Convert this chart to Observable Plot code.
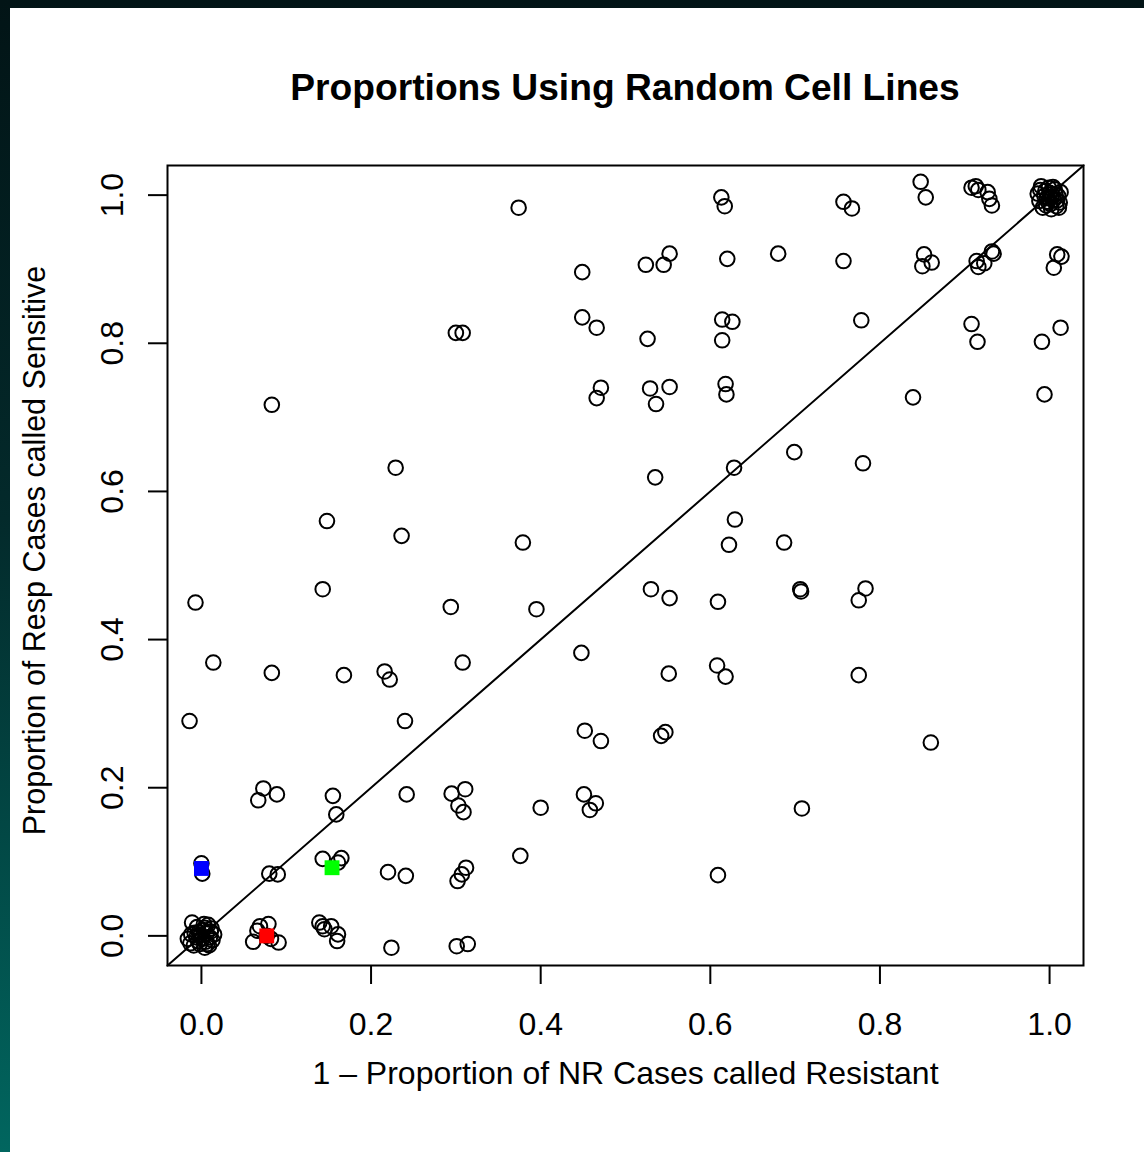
<!DOCTYPE html>
<html><head><meta charset="utf-8">
<script src="https://cdn.jsdelivr.net/npm/d3@7"></script>
<script src="https://cdn.jsdelivr.net/npm/@observablehq/plot@0.6"></script>
<style>
html,body{margin:0;padding:0;width:1144px;height:1152px;overflow:hidden;background:linear-gradient(to bottom,#021416 0%,#032a2b 45%,#01665f 100%);}
#panel{position:absolute;left:10px;top:8px;width:1134px;height:1144px;background:#fff;}
#title{position:absolute;left:157px;width:916px;top:61px;text-align:center;font-family:"Liberation Sans",Arial,sans-serif;font-weight:bold;font-size:37.2px;line-height:37px;color:#000;white-space:nowrap;}
#chart{position:absolute;left:0;top:122px;}
#chart svg{overflow:visible;}
</style></head>
<body>
<div id="panel"><div id="title">Proportions Using Random Cell Lines</div><div id="chart"></div></div>
<script>
const titleText = "Proportions Using Random Cell Lines";
const xLabel = "1 \u2013 Proportion of NR Cases called Resistant";
const yLabel = "Proportion of Resp Cases called Sensitive";
const axisLimits = [-0.04, 1.04];
const xTicks = [0, 0.2, 0.4, 0.6, 0.8, 1.0];
const yTicks = [0, 0.2, 0.4, 0.6, 0.8, 1.0];

// open circles: 1 - proportion NR called resistant (x), proportion Resp called sensitive (y)
const nrX = [
  0.374,0.613,0.617,0.757,0.767,0.848,0.854,0.908,0.913,0.916,0.927,0.929,0.932,
  0.449,0.524,0.545,0.552,0.620,0.680,0.757,0.852,0.850,0.861,0.932,0.934,0.914,0.916,0.923,1.009,1.014,1.005,
  0.300,0.308,0.449,0.466,0.526,0.614,0.626,0.614,0.778,0.908,0.915,1.013,0.991,
  0.471,0.466,0.529,0.552,0.536,0.618,0.619,0.839,0.994,0.083,
  0.229,0.535,0.628,0.699,0.780,0.148,0.236,0.379,0.629,0.622,0.687,
  -0.007,0.143,0.294,0.395,0.530,0.552,0.609,0.706,0.707,0.783,0.775,
  0.014,0.083,0.168,0.216,0.222,0.308,0.448,0.551,0.608,0.618,0.775,
  -0.014,0.240,0.452,0.471,0.542,0.547,0.860,
  0.073,0.067,0.089,0.155,0.159,0.242,0.295,0.311,0.303,0.309,0.451,0.465,0.458,0.400,0.708,
  0.000,0.001,0.080,0.090,0.143,0.165,0.161,0.220,0.241,0.312,0.307,0.302,0.376,0.609,
  0.224,0.301,0.314,0.139,0.143,0.145,0.153,0.161,0.160,
  0.069,0.079,0.061,0.091,0.082,0.066,0.077,
  -0.011,-0.013,-0.016,-0.009,-0.005,0.003,0.008,0.012,0.015,0.013,0.009,0.004,-0.002,-0.006,
  -0.003,0.002,0.006,0.001,0.005,-0.008,0.010,-0.001,0.004,-0.004,0.011,0.007,-0.012,
  0.986,0.988,0.990,0.992,0.995,0.997,0.999,1.001,1.003,1.005,1.006,1.008,1.010,
  1.012,1.013,0.994,1.000,1.002,1.007,0.998,1.004,1.011,0.989,1.009,0.996,1.002
];
const respY = [
  0.983,0.997,0.985,0.991,0.982,1.018,0.997,1.010,1.012,1.007,1.004,0.995,0.986,
  0.896,0.906,0.906,0.921,0.914,0.921,0.911,0.920,0.904,0.909,0.924,0.921,0.911,0.903,0.908,0.920,0.917,0.902,
  0.814,0.814,0.835,0.821,0.806,0.832,0.829,0.804,0.831,0.826,0.802,0.821,0.802,
  0.740,0.726,0.739,0.741,0.718,0.745,0.731,0.727,0.731,0.717,
  0.632,0.619,0.632,0.653,0.638,0.560,0.540,0.531,0.562,0.528,0.531,
  0.450,0.468,0.444,0.441,0.468,0.456,0.451,0.468,0.465,0.469,0.453,
  0.369,0.355,0.352,0.357,0.346,0.369,0.382,0.354,0.365,0.350,0.352,
  0.290,0.290,0.277,0.263,0.270,0.275,0.261,
  0.199,0.183,0.191,0.189,0.164,0.191,0.192,0.198,0.176,0.167,0.191,0.179,0.170,0.173,0.172,
  0.098,0.084,0.084,0.083,0.104,0.105,0.099,0.086,0.081,0.092,0.083,0.074,0.108,0.082,
  -0.016,-0.014,-0.011,0.018,0.013,0.009,0.013,0.002,-0.007,
  0.013,0.016,-0.008,-0.009,-0.004,0.007,0.000,
  0.018,-0.010,-0.004,-0.013,0.012,0.016,0.015,0.010,0.002,-0.006,-0.013,-0.016,-0.011,-0.002,
  0.005,0.008,0.003,-0.004,-0.008,0.004,-0.002,0.001,0.011,-0.007,0.006,-0.011,0.002,
  1.002,0.992,1.012,0.983,1.006,0.996,1.010,0.988,1.001,0.994,1.008,0.985,0.999,
  0.990,1.004,0.999,1.003,0.981,1.001,0.991,1.011,0.983,1.007,0.993,0.986,0.997
];

// highlighted cell lines (filled squares)
const blueX = [0.000], blueY = [0.091];
const redX = [0.077], redY = [0.000];
const greenX = [0.154], greenY = [0.092];

const pts = nrX.map((x, i) => ({x, y: respY[i]}));
const pairs = (xs, ys) => xs.map((x, i) => ({x, y: ys[i]}));
const diag = axisLimits.map(v => ({x: v, y: v}));

document.getElementById("title").textContent = titleText;

const chart = Plot.plot({
  width: 1134, height: 1022,
  marginLeft: 157, marginRight: 61, marginTop: 35, marginBottom: 187,
  style: {background: "transparent", overflow: "visible", fontFamily: '"Liberation Sans", Arial, sans-serif', fontSize: "32px", color: "black"},
  x: {domain: axisLimits, axis: null},
  y: {domain: axisLimits, axis: null},
  marks: [
    Plot.line(diag, {x: "x", y: "y", stroke: "black", strokeWidth: 2}),
    Plot.dot(pts, {x: "x", y: "y", r: 7.3, stroke: "black", strokeWidth: 2, fill: "none"}),
    Plot.dot(pairs(blueX, blueY), {x: "x", y: "y", symbol: "square", r: 8.4, fill: "#0000ff"}),
    Plot.dot(pairs(redX, redY), {x: "x", y: "y", symbol: "square", r: 8.4, fill: "#ff0000"}),
    Plot.dot(pairs(greenX, greenY), {x: "x", y: "y", symbol: "square", r: 8.4, fill: "#00ff00"}),
    Plot.frame({stroke: "black", strokeWidth: 2}),
    Plot.axisX({anchor: "bottom", ticks: xTicks, tickSize: 19, tickPadding: 28, tickFormat: d3.format(".1f"), strokeWidth: 2, label: null}),
    Plot.axisY({anchor: "left", ticks: yTicks, tickSize: 19, tickPadding: 26, tickRotate: -90, tickFormat: d3.format(".1f"), strokeWidth: 2, label: null}),
    Plot.text([xLabel], {frameAnchor: "bottom", text: d => d, dy: 118, lineAnchor: "bottom", textAnchor: "middle"}),
    Plot.text([yLabel], {frameAnchor: "left", text: d => d, dx: -123, dy: -15, rotate: -90, lineAnchor: "bottom", textAnchor: "middle", fontSize: 30.5})
  ]
});
document.getElementById("chart").appendChild(chart);
</script>
</body></html>
